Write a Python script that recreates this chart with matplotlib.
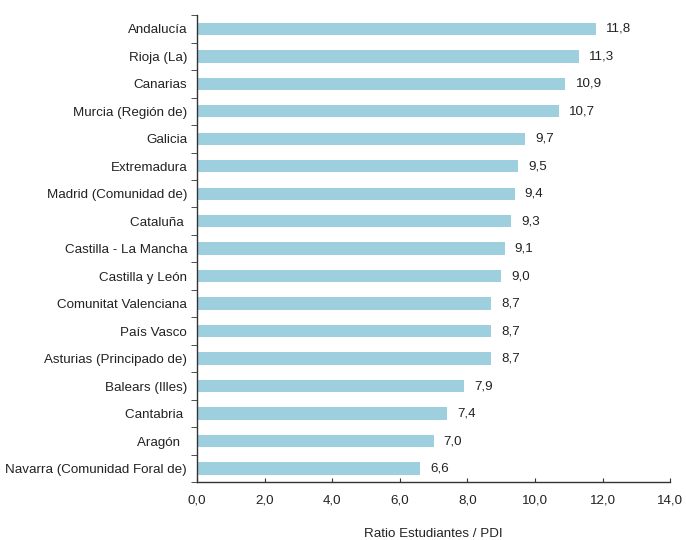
import matplotlib
matplotlib.use("Agg")
import matplotlib.pyplot as plt
import numpy as np

regions = ["Andalucía", "Rioja (La)", "Canarias", "Murcia (Región de)", "Galicia",
           "Extremadura", "Madrid (Comunidad de)", "Cataluña ", "Castilla - La Mancha",
           "Castilla y León", "Comunitat Valenciana", "País Vasco",
           "Asturias (Principado de)", "Balears (Illes)", "Cantabria ", "Aragón  ",
           "Navarra (Comunidad Foral de)"]
values = [11.8, 11.3, 10.9, 10.7, 9.7, 9.5, 9.4, 9.3, 9.1, 9.0, 8.7, 8.7, 8.7, 7.9, 7.4, 7.0, 6.6]
xticks = [0, 2, 4, 6, 8, 10, 12, 14]

plt.rcParams['font.family'] = ['Liberation Sans', 'DejaVu Sans']
FS = 9.6
TC = "#222222"

fig = plt.figure(figsize=(6.86, 5.40), dpi=100)
ax = fig.add_axes([0.287, 0.107, 0.690, 0.865])

y = np.arange(len(regions))
ax.barh(y, values, height=0.45, color="#9ecfdf", zorder=2)
for yi, v in zip(y, values):
    ax.text(v + 0.3, yi, f"{v:.1f}".replace(".", ","), va="center", ha="left",
            fontsize=FS, color=TC)

ax.set_ylim(16.5, -0.5)
ax.set_xlim(0, 14)
ax.set_yticks(y)
ax.set_yticklabels(regions, fontsize=FS, color=TC)
ax.tick_params(axis="y", which="major", length=0, pad=7)
ax.set_yticks(np.arange(-0.5, len(regions), 1.0), minor=True)
ax.tick_params(axis="y", which="minor", length=4, direction="out", color="#333333")

ax.set_xticks(xticks)
ax.set_xticklabels([f"{t:.1f}".replace(".", ",") for t in xticks], fontsize=FS, color=TC)
ax.tick_params(axis="x", direction="in", length=3, pad=9, color="#333333")
ax.set_xlabel("Ratio Estudiantes / PDI", fontsize=FS, color=TC, labelpad=15)

for s in ["top", "right"]:
    ax.spines[s].set_visible(False)
for s in ["left", "bottom"]:
    ax.spines[s].set_color("#333333")
    ax.spines[s].set_linewidth(1.0)

fig.savefig("out.png", dpi=100)
